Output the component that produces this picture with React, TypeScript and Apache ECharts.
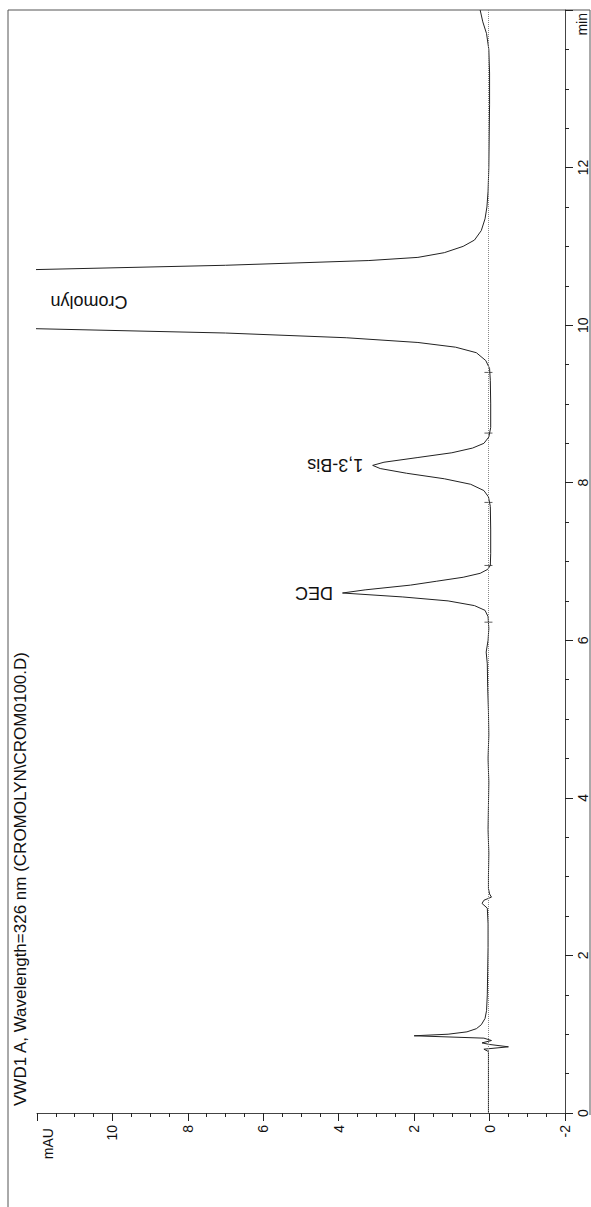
import React, { useEffect, useRef } from 'react';
import * as echarts from 'echarts';

// Chromatogram trace: retention time (min) and detector signal (mAU)
const traceTime = [
  0, 0.3, 0.6, 0.78, 0.81, 0.84, 0.87, 0.89, 0.92, 0.95, 0.98, 1.0, 1.03, 1.07, 1.12, 1.2, 1.3, 1.5,
  1.8, 2.1, 2.4, 2.6, 2.66, 2.7, 2.74, 2.78, 2.85, 3.0, 3.3, 3.6, 3.9, 4.2, 4.5, 4.8, 5.1, 5.4, 5.7,
  5.85, 6.0, 6.15, 6.3, 6.38, 6.44, 6.5, 6.55, 6.6, 6.64, 6.7, 6.75, 6.8, 6.85, 6.9, 6.95, 7.1, 7.4,
  7.7, 7.82, 7.9, 7.98, 8.05, 8.12, 8.18, 8.22, 8.26, 8.32, 8.38, 8.44, 8.5, 8.58, 8.7, 9.0, 9.3,
  9.45, 9.55, 9.65, 9.72, 9.78, 9.84, 9.9, 9.96, 10.3, 10.7, 10.76, 10.82, 10.86, 10.92, 11.0, 11.08,
  11.2, 11.35, 11.5, 11.7, 12.0, 12.4, 12.8, 13.2, 13.5, 13.7, 13.85, 14.0,
];
const traceMau = [
  0.03, 0.03, 0.03, 0.03, 0.15, -0.5, 0.0, 0.2, -0.05, 0.15, 2.0, 1.1, 0.6, 0.35, 0.22, 0.12, 0.08, 0.06,
  0.05, 0.04, 0.04, 0.06, 0.2, 0.15, -0.05, 0.0, 0.03, 0.03, 0.02, 0.04, 0.03, 0.02, 0.04, 0.02, 0.03, 0.05, 0.06,
  0.09, 0.04, 0.02, 0.04, 0.12, 0.4, 1.1, 2.3, 3.9, 3.3, 2.1, 1.4, 0.7, 0.25, 0.05, -0.02, -0.03, -0.03,
  -0.02, 0.03, 0.15, 0.5, 1.2, 2.2, 2.9, 3.1, 2.8, 1.9, 1.0, 0.45, 0.15, 0.02, -0.03, -0.03, -0.02,
  0.0, 0.1, 0.35, 0.9, 1.9, 3.8, 7, 12.5, 12.5, 12.5, 7, 3.2, 1.9, 1.2, 0.7, 0.4,
  0.22, 0.12, 0.07, 0.04, 0.02, 0.01, 0.0, 0.0, 0.02, 0.08, 0.18, 0.25,
];

// Integration start/end marks on the baseline (min)
const integrationMarks = [6.23, 6.95, 7.75, 8.63, 9.4];

// Peak annotations
const peakNames = ['DEC', '1,3-Bis', 'Cromolyn'];
const peakLabelTime = [6.6, 8.22, 10.3];
const peakLabelMau = [4.15, 3.35, 9.6];

const titleText = 'VWD1 A, Wavelength=326 nm (CROMOLYN\\CROM0100.D)';
const FONT = '"Liberation Sans", Arial, Helvetica, sans-serif';

export default function App() {
  const ref = useRef<HTMLDivElement>(null);
  useEffect(() => {
    if (!ref.current) return;
    const chart = echarts.init(ref.current, undefined, { renderer: 'svg' });
    const data = traceTime.map((t, i) => [traceMau[i], t]);
    chart.setOption({
      animation: false,
      backgroundColor: '#ffffff',
      grid: { left: 37, right: 26, top: 10, bottom: 94, containLabel: false },
      xAxis: {
        type: 'value',
        min: -2,
        max: 12,
        interval: 2,
        inverse: true,
        position: 'bottom',
        axisLine: { show: true, onZero: false, lineStyle: { color: '#444', width: 1 } },
        axisTick: { show: true, length: 8, lineStyle: { color: '#222' } },
        minorTick: { show: true, splitNumber: 4, length: 4, lineStyle: { color: '#222' } },
        splitLine: { show: false },
        axisLabel: {
          rotate: 90,
          margin: 12,
          fontSize: 14,
          color: '#111',
          fontFamily: FONT,
          formatter: (v: number) => (v === 12 ? '' : String(v)),
        },
      },
      yAxis: {
        type: 'value',
        min: 0,
        max: 14,
        interval: 2,
        position: 'right',
        axisLine: { show: true, onZero: false, lineStyle: { color: '#444', width: 1 } },
        axisTick: { show: true, length: 8, lineStyle: { color: '#222' } },
        minorTick: { show: true, splitNumber: 4, length: 4, lineStyle: { color: '#222' } },
        splitLine: { show: false },
        axisLabel: {
          rotate: 90,
          margin: 11,
          fontSize: 14,
          color: '#111',
          fontFamily: FONT,
          formatter: (v: number) => (v === 14 ? '' : String(v)),
        },
      },
      series: [
        {
          type: 'line',
          data,
          showSymbol: false,
          symbol: 'none',
          clip: true,
          lineStyle: { color: '#222', width: 1 },
          markLine: {
            silent: true,
            symbol: 'none',
            label: { show: false },
            lineStyle: { color: '#888', type: 'dotted', width: 1 },
            data: [{ xAxis: 0.03 }],
          },
        },
        {
          type: 'scatter',
          data: integrationMarks.map((t) => [0.03, t]),
          symbol: 'rect',
          symbolSize: [8, 1],
          itemStyle: { color: '#333' },
          silent: true,
        },
      ],
    });

    const labels = peakNames.map((name, i) => {
      const p = chart.convertToPixel({ gridIndex: 0 }, [peakLabelMau[i], peakLabelTime[i]]) as number[];
      return {
        type: 'text',
        x: p[0],
        y: p[1],
        rotation: Math.PI,
        style: {
          text: name,
          align: 'left',
          verticalAlign: 'middle',
          fontSize: 18,
          fontFamily: FONT,
          fill: '#111',
        },
      };
    });

    chart.setOption({
      graphic: [
        { type: 'line', shape: { x1: 8, y1: 10, x2: 8, y2: 1207 }, style: { stroke: '#555', lineWidth: 1 } },
        { type: 'line', shape: { x1: 8, y1: 10, x2: 590, y2: 10 }, style: { stroke: '#555', lineWidth: 1 } },
        { type: 'line', shape: { x1: 590, y1: 10, x2: 590, y2: 1115 }, style: { stroke: '#555', lineWidth: 1 } },
        {
          type: 'text',
          x: 20,
          y: 1106,
          rotation: Math.PI / 2,
          style: { text: titleText, align: 'left', verticalAlign: 'middle', fontSize: 17, fontFamily: FONT, fill: '#111' },
        },
        {
          type: 'text',
          x: 48,
          y: 1128,
          rotation: Math.PI / 2,
          style: { text: 'mAU', align: 'right', verticalAlign: 'middle', fontSize: 14, fontFamily: FONT, fill: '#111' },
        },
        {
          type: 'text',
          x: 582,
          y: 13,
          rotation: Math.PI / 2,
          style: { text: 'min', align: 'right', verticalAlign: 'middle', fontSize: 14, fontFamily: FONT, fill: '#111' },
        },
        ...labels,
      ],
    });
    return () => chart.dispose();
  }, []);
  return <div ref={ref} style={{ position: 'fixed', left: 0, top: 0, width: 591, height: 1207 }} />;
}
